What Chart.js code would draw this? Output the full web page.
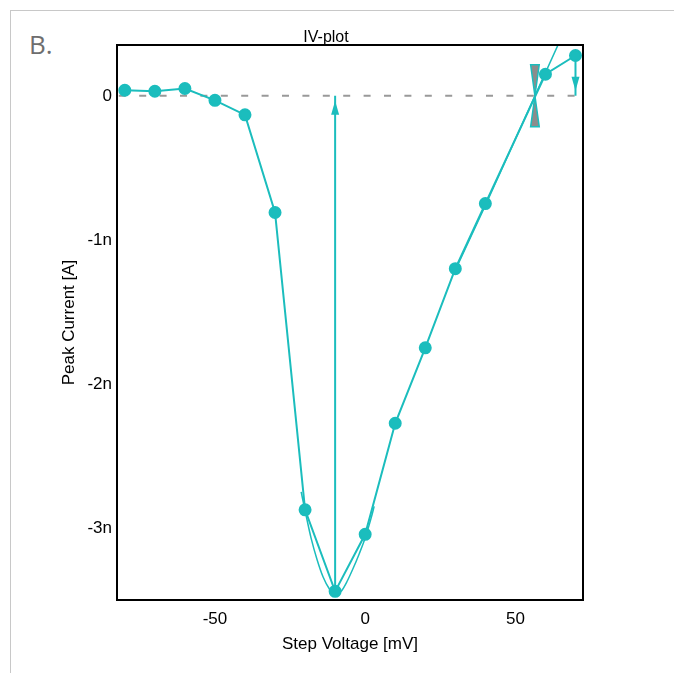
<!DOCTYPE html>
<html>
<head>
<meta charset="utf-8">
<script src="https://cdn.jsdelivr.net/npm/chart.js@4"></script>
<style>
  html, body { margin: 0; padding: 0; background: #fff; }
  #wrap { position: relative; width: 674px; height: 673px; overflow: hidden; }
  #frame { position: absolute; left: 10px; top: 10px; width: 700px; height: 700px; border-left: 1px solid #c8c8c8; border-top: 1px solid #c8c8c8; }
  #panel { position: absolute; left: 29px; top: 26px; font: 26px "Open Sans", sans-serif; color: #6e6e6e; }
  canvas { position: absolute; left: 0; top: 0; }
</style>
</head>
<body>
<div id="wrap">
  <div id="frame"></div>
  <div id="panel">B.</div>
  <canvas id="iv" width="674" height="673"></canvas>
</div>
<script>
  // measured points (mV, nA)
  const stepVoltage = [-80, -70, -60, -50, -40, -30, -20, -10, 0, 10, 20, 30, 40, 60, 70];
  const peakCurrent = [0.039, 0.032, 0.051, -0.031, -0.132, -0.81, -2.874, -3.44, -3.044, -2.273, -1.749, -1.2, -0.748, 0.15, 0.28];

  // fitted curve around the peak
  const fitV = [-21.3, -20, -18, -16, -14, -12, -10, -8, -6, -4, -2, 0, 2, 3];
  const fitI = [-2.75, -2.88, -3.07, -3.22, -3.34, -3.42, -3.465, -3.44, -3.37, -3.28, -3.18, -3.07, -2.93, -2.85];

  // linear fit for reversal potential
  const linV = [30, 40, 56.5, 66];
  const linI = [-1.21, -0.76, 0, 0.437];
  const reversalV = 56.5;

  // marker arrows: voltage, start, end (nA)
  const arrowV = [-10, 70];
  const arrowFrom = [-3.44, 0.28];
  const arrowTo = [0, 0];

  const zeroV = [-82, 70];
  const zeroI = [0, 0];

  const xTicks = [-50, 0, 50];
  const yTicks = [0, -1, -2, -3];
  const plotTitle = 'IV-plot';

  const TEAL = '#1bbdbd';
  const FONT = 'Arial, "Liberation Sans", sans-serif';

  const pts = (xs, ys) => xs.map((x, i) => ({ x, y: ys[i] }));

  const arrowDatasets = arrowV.map((v, i) => ({
    data: [{ x: v, y: arrowFrom[i] }, { x: v, y: arrowTo[i] }],
    borderColor: TEAL, borderWidth: 2, pointRadius: 0, showLine: true
  }));

  const extras = {
    id: 'extras',
    afterDatasetsDraw(chart) {
      const { ctx, chartArea: a, scales: { x, y } } = chart;
      ctx.save();
      // arrow heads
      ctx.fillStyle = TEAL;
      arrowV.forEach((v, i) => {
        const px = x.getPixelForValue(v);
        const end = y.getPixelForValue(arrowTo[i]);
        const start = y.getPixelForValue(arrowFrom[i]);
        const dir = end < start ? -1 : 1;
        const tip = end - dir * 5;
        const base = tip - dir * 14;
        ctx.beginPath();
        ctx.moveTo(px, tip);
        ctx.lineTo(px - 4, base);
        ctx.lineTo(px + 4, base);
        ctx.closePath();
        ctx.fill();
      });
      // reversal potential marker
      const rx = x.getPixelForValue(reversalV);
      const ry = y.getPixelForValue(0);
      ctx.fillStyle = '#8c8c8c';
      ctx.strokeStyle = TEAL;
      ctx.lineWidth = 1.5;
      [-1, 1].forEach(s => {
        ctx.beginPath();
        ctx.moveTo(rx, ry);
        ctx.lineTo(rx - 4.3, ry + s * 31);
        ctx.lineTo(rx + 4.3, ry + s * 31);
        ctx.closePath();
        ctx.fill();
        ctx.stroke();
      });
      // frame
      ctx.strokeStyle = '#000';
      ctx.lineWidth = 2;
      ctx.strokeRect(a.left, a.top, a.right - a.left, a.bottom - a.top);
      // title
      ctx.fillStyle = '#000';
      ctx.font = '16px ' + FONT;
      ctx.textAlign = 'center';
      ctx.textBaseline = 'middle';
      ctx.fillText(plotTitle, 326, 37.5);
      ctx.restore();
    }
  };

  new Chart(document.getElementById('iv'), {
    type: 'scatter',
    data: {
      datasets: [
        { data: pts(stepVoltage, peakCurrent), showLine: true, borderColor: TEAL, backgroundColor: TEAL, borderWidth: 2, pointRadius: 5.5, pointHoverRadius: 5.5 },
        { data: pts(fitV, fitI), showLine: true, borderColor: TEAL, borderWidth: 1.5, pointRadius: 0, cubicInterpolationMode: 'monotone' },
        { data: pts(linV, linI), showLine: true, borderColor: TEAL, borderWidth: 1.5, pointRadius: 0 },
        ...arrowDatasets,
        { data: pts(zeroV, zeroI), showLine: true, borderColor: '#999', borderWidth: 2, borderDash: [7, 13.4], pointRadius: 0 }
      ]
    },
    options: {
      responsive: false,
      animation: false,
      events: [],
      layout: { padding: { left: 0, right: 91, top: 45, bottom: 0 } },
      plugins: { legend: { display: false }, tooltip: { enabled: false } },
      scales: {
        x: {
          type: 'linear', min: -82.6, max: 72.5,
          grid: { display: false, drawTicks: false },
          border: { display: false },
          afterFit: s => { s.height = 73; },
          afterBuildTicks: s => { s.ticks = xTicks.map(v => ({ value: v })); },
          ticks: { color: '#000', font: { size: 17, family: FONT }, padding: 9, maxRotation: 0 },
          title: { display: true, text: 'Step Voltage [mV]', color: '#000', font: { size: 17, family: FONT }, padding: { bottom: 18 } }
        },
        y: {
          type: 'linear', min: -3.5, max: 0.353,
          grid: { display: false, drawTicks: false },
          border: { display: false },
          afterFit: s => { s.width = 117; },
          afterBuildTicks: s => { s.ticks = yTicks.map(v => ({ value: v })); },
          ticks: { color: '#000', font: { size: 17, family: FONT }, padding: 5, callback: v => v === 0 ? '0' : v + 'n' },
          title: { display: true, text: 'Peak Current [A]', color: '#000', font: { size: 17, family: FONT }, padding: { top: 59 } }
        }
      }
    },
    plugins: [extras]
  });
</script>
</body>
</html>
